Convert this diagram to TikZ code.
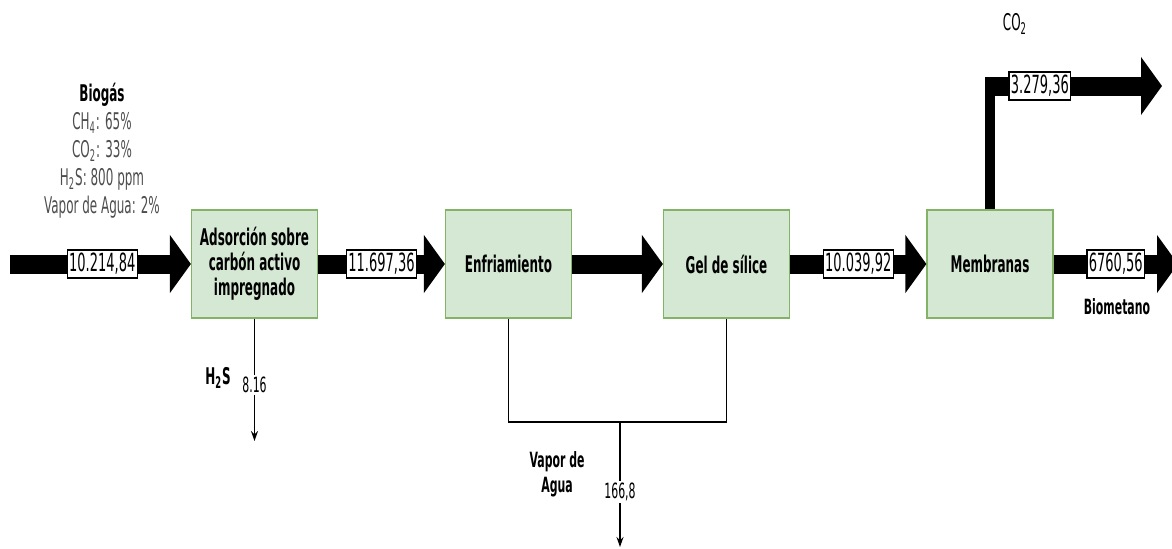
\documentclass[tikz,border=0pt]{standalone}
\usepackage{fontspec}
\setmainfont{DejaVu Sans}[FakeStretch=0.52]
\usetikzlibrary{arrows.meta,positioning}
\definecolor{boxfill}{HTML}{D5E8D4}
\definecolor{boxline}{HTML}{82B366}
\definecolor{compgray}{HTML}{4D4D4D}

\begin{document}
\begin{tikzpicture}[
x=0.5pt, y=-0.5pt,
procnode/.style={rectangle, draw=boxline, fill=boxfill, line width=0.6pt, minimum width=63pt, minimum height=54pt, align=center, inner sep=1pt, font=\fontsize{11.5}{12.5}\selectfont\bfseries},
flowlabel/.style={rectangle, draw=black, fill=white, line width=0.6pt, inner xsep=1pt, inner ysep=0pt, minimum height=14pt, font=\fontsize{12.5}{13}\selectfont},
fatflow/.style={line width=9.5pt, -{Triangle[length=10.5pt,width=28.5pt]}},
thinflow/.style={line width=0.7pt, -{Stealth[length=5pt,width=3.5pt]}},
numlabel/.style={fill=white, inner sep=1pt, font=\fontsize{10.5}{12}\selectfont},
namelabel/.style={align=center, font=\fontsize{10.5}{12.5}\selectfont\bfseries}]
\useasboundingbox (0,0) rectangle (1172,548);
% Nodes
\node[procnode] (adsorb) at (254.5,264) {Adsorción sobre\\carbón activo\\impregnado};
\node[procnode] (enfr) at (508.5,264) {Enfriamiento};
\node[procnode] (gel) at (726.5,264) {Gel de sílice};
\node[procnode] (memb) at (990,264) {Membranas};
\node[align=center, font=\fontsize{11.5}{14}\selectfont, text=compgray] (biogas) at (102,151)
  {\textcolor{black}{\bfseries Biogás}\\CH\textsubscript{4}: 65\%\\CO\textsubscript{2}: 33\%\\H\textsubscript{2}S: 800 ppm\\Vapor de Agua: 2\%};
\node[namelabel, font=\fontsize{11.5}{12.5}\selectfont\bfseries] (h2s) at (218,378) {H\textsubscript{2}S};
\node[namelabel] (vapor) at (557,474) {Vapor de\\Agua};
\node[font=\fontsize{11.5}{12}\selectfont] (co2) at (1015,24) {CO\textsubscript{2}};
\node[namelabel] (biomet) at (1117,307) {Biometano};
\coordinate (feed) at (10,264);
\coordinate (biotip) at (1178,264);
\coordinate (co2bend) at (990,86);
\coordinate (co2tip) at (1162,86);
\coordinate (h2send) at (254.5,441);
\coordinate (vjoin) at (620,422);
\coordinate (vend) at (620,547);
% Lines
\draw[fatflow] (feed) -- (adsorb.west) node[flowlabel, pos=0.51] (f1) {10.214,84};
\draw[fatflow] (adsorb.east) -- (enfr.west) node[flowlabel, pos=0.5] (f2) {11.697,36};
\draw[fatflow] (enfr.east) -- (gel.west);
\draw[fatflow] (gel.east) -- (memb.west) node[flowlabel, pos=0.5] (f3) {10.039,92};
\draw[fatflow] (memb.east) -- (biotip) node[flowlabel, pos=0.5] (f4) {6760,56};
\draw[line width=5pt] (memb.north) -- (co2bend);
\draw[fatflow] ([xshift=-2.5pt]co2bend) -- (co2tip) node[flowlabel, pos=0.31] (f5) {3.279,36};
\draw[thinflow] (adsorb.south) -- (h2send) node[numlabel, pos=0.54] (w1) {8.16};
\draw[line width=0.7pt] (enfr.south) |- (vjoin -| gel.south) -- (gel.south);
\draw[thinflow] (vjoin) -- (vend) node[numlabel, pos=0.56] (w2) {166,8};
\end{tikzpicture}
\end{document}
